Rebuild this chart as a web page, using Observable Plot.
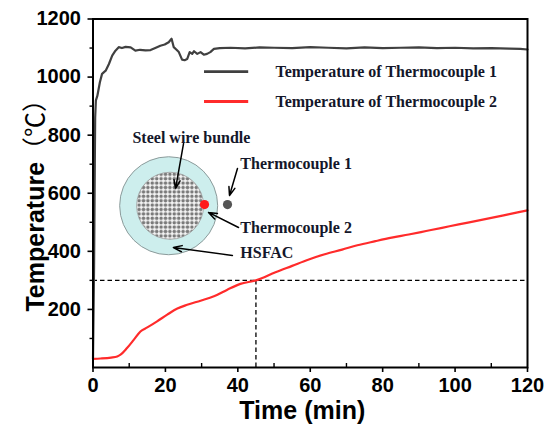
<!DOCTYPE html>
<html>
<head>
<meta charset="utf-8">
<script src="https://cdn.jsdelivr.net/npm/d3@7"></script>
<script src="https://cdn.jsdelivr.net/npm/@observablehq/plot@0.6"></script>
<style>
  html, body { margin: 0; padding: 0; background: #fff; }
</style>
</head>
<body>
<div id="chart"></div>
<script>
// ---- Data ----
const tc1Time = [0, 0.3, 0.5, 0.6, 0.8, 1.2, 1.9, 2.5, 3.5, 4.4, 5.3, 6.2, 7.1, 8, 9, 10.4, 11.7, 13, 14.5, 15.9, 17.2, 18.6, 19.8, 20.9, 21.7, 22.3, 23, 23.7, 24.6, 25.3, 26.0, 26.7, 27.4, 27.9, 28.8, 29.7, 30.6, 31.5, 32.4, 33.4, 35, 38, 42, 46, 50, 55, 60, 65, 70, 75, 80, 85, 90, 95, 100, 105, 110, 115, 118, 120];
const tc1Temp = [30, 350, 700, 860, 920, 935, 982, 1011, 1022, 1045, 1074, 1091, 1103, 1100, 1104, 1102, 1091, 1094, 1092, 1093, 1100, 1108, 1112, 1120, 1132, 1103, 1095, 1086, 1060, 1058, 1062, 1086, 1080, 1089, 1080, 1086, 1077, 1080, 1086, 1097, 1100, 1101, 1099, 1102, 1101, 1100, 1103, 1101, 1099, 1102, 1100, 1101, 1102, 1100, 1101, 1099, 1100, 1098, 1097, 1095];

const tc2Time = [0, 2.1, 5, 6.7, 7.6, 9.4, 11.3, 13.1, 15, 17.7, 20.5, 23.3, 26, 29.7, 33.4, 37.1, 40.7, 45, 50.4, 55, 59.6, 64, 68.8, 73, 78, 82.5, 87.2, 92, 96.4, 101, 105.6, 110, 115, 120];
const tc2Temp = [30, 31, 34, 38, 44, 67, 96, 124, 138, 159, 182, 203, 216, 230, 245, 268, 288, 300, 328, 350, 372, 390, 406, 421, 435, 447, 458, 470, 481, 493, 504, 515, 528, 541];

const seriesNames = ["Temperature of Thermocouple 1", "Temperature of Thermocouple 2"];
const seriesColors = ["#404040", "#ff2b2b"];

const xTicks = [0, 20, 40, 60, 80, 100, 120];
const xMinor = [10, 30, 50, 70, 90, 110];
const yTicks = [200, 400, 600, 800, 1000, 1200];
const yMinor = [100, 300, 500, 700, 900, 1100];

// 300 °C reached at 45 min
const markTime = 45;
const markTemp = 300;

// Annotation anchors, in data coordinates (min, °C)
const annoLabels = ["Steel wire bundle", "Thermocouple 1", "Thermocouple 2", "HSFAC"];
const annoX = [10.9, 40.7, 40.7, 40.7];
const annoY = [792, 702, 482, 393];
const arrowX1 = [25.0, 39.9, 40.2, 38.5];
const arrowY1 = [771, 685, 482, 386];
const arrowX2 = [22.8, 37.7, 31.9, 22.2];
const arrowY2 = [616, 592, 534, 413];
const bundleX = 21.3, bundleY = 557;
const tc2DotX = 30.8, tc1DotX = 37.15, dotsY = 561;
const legendX1 = 30.8, legendX2 = 43.0, legendTextX = 50.4;
const legendY = [1019, 916];

// ---- Build tables ----
const tc1 = tc1Time.map((t, i) => ({t, v: tc1Temp[i]}));
const tc2 = tc2Time.map((t, i) => ({t, v: tc2Temp[i]}));
const annos = annoLabels.map((s, i) => ({s, x: annoX[i], y: annoY[i]}));
const arrows = arrowX1.map((x1, i) => ({x1, y1: arrowY1[i], x2: arrowX2[i], y2: arrowY2[i]}));
const legendRows = seriesNames.map((s, i) => ({s, c: seriesColors[i], y: legendY[i]}));

const sans = "'Liberation Sans', Arial, 'Noto Sans CJK SC', sans-serif";
const serif = "'Liberation Serif', 'Times New Roman', serif";
const ink = "#14172a";

const chart = Plot.plot({
  width: 550,
  height: 436,
  marginLeft: 92.5,
  marginRight: 23,
  marginTop: 18.5,
  marginBottom: 69,
  style: {fontFamily: sans, background: "#fff", overflow: "visible"},
  x: {domain: [0, 120]},
  y: {domain: [0, 1200]},
  marks: [
    // dashed guide lines
    Plot.ruleY([markTemp], {x1: 0, x2: 120, stroke: "#000", strokeWidth: 1.3, strokeDasharray: "4.5,3"}),
    Plot.ruleX([markTime], {y1: 0, y2: markTemp, stroke: "#000", strokeWidth: 1.3, strokeDasharray: "4.5,3"}),

    // inset illustration
    Plot.dot([{x: bundleX - 0.4, y: bundleY}], {x: "x", y: "y", r: 49, fill: "#cdeeed", stroke: "#8c9b9b", strokeWidth: 1}),
    Plot.dot([{x: bundleX, y: bundleY}], {x: "x", y: "y", r: 33.5, fill: "#fff", stroke: "#9a9a9a", strokeWidth: 0.8, className: "chk"}),
    Plot.dot([{x: tc2DotX, y: dotsY}], {x: "x", y: "y", r: 4.6, fill: "#ff1a1a"}),
    Plot.dot([{x: tc1DotX, y: dotsY}], {x: "x", y: "y", r: 4.6, fill: "#555"}),
    Plot.arrow(arrows, {x1: "x1", y1: "y1", x2: "x2", y2: "y2", stroke: "#000", strokeWidth: 1.5, headLength: 9, headAngle: 40}),
    Plot.text(annos, {x: "x", y: "y", text: "s", textAnchor: "start", fontFamily: serif, fontWeight: "bold", fontSize: 16, fill: ink}),

    // series
    Plot.line(tc1, {x: "t", y: "v", stroke: seriesColors[0], strokeWidth: 2.2}),
    Plot.line(tc2, {x: "t", y: "v", stroke: seriesColors[1], strokeWidth: 2.2, curve: "monotone-x"}),

    // legend
    Plot.ruleY(legendRows, {y: "y", x1: legendX1, x2: legendX2, stroke: "c", strokeWidth: 2.8}),
    Plot.text(legendRows, {x: legendTextX, y: "y", text: "s", textAnchor: "start", fontFamily: serif, fontWeight: "bold", fontSize: 16, fill: ink}),

    // axes
    Plot.axisX(xTicks, {tickSize: 5, tickPadding: 5, strokeWidth: 1.6, fontSize: 20, fontWeight: "bold", fill: "#000", label: null, tickFormat: d3.format("d")}),
    Plot.axisX(xMinor, {tickSize: -4, text: null, strokeWidth: 1.4, label: null}),
    Plot.axisY(yTicks, {tickSize: 5, tickPadding: 7, strokeWidth: 1.6, fontSize: 20, fontWeight: "bold", fill: "#000", label: null, tickFormat: d3.format("d")}),
    Plot.axisY(yMinor, {tickSize: 3, text: null, strokeWidth: 1.4, label: null}),
    Plot.frame({stroke: "#000", strokeWidth: 2}),

    // axis titles
    Plot.text(["Time (min)"], {frameAnchor: "bottom", textAnchor: "middle", lineAnchor: "middle", dx: -8, dy: 43, fontSize: 25, fontWeight: "bold", fill: "#000"}),
    Plot.text(["Temperature（℃）"], {frameAnchor: "left", textAnchor: "middle", lineAnchor: "middle", dx: -57, dy: 6, rotate: -90, fontSize: 25, fontWeight: "bold", fill: "#000", className: "ylab"})
  ]
});

// checkered pattern for the steel wire bundle
const svg = d3.select(chart);
const defs = svg.insert("defs", ":first-child");
const pat = defs.append("pattern")
  .attr("id", "chk").attr("patternUnits", "userSpaceOnUse")
  .attr("width", 4.4).attr("height", 4.4);
pat.append("rect").attr("width", 4.4).attr("height", 4.4).attr("fill", "#f4f4f4");
pat.append("circle").attr("cx", 2.2).attr("cy", 2.2).attr("r", 1.75).attr("fill", "#7a7a7a");
svg.selectAll(".chk circle").attr("fill", "url(#chk)");

// full-width brackets in the y title, as in the reference
svg.selectAll(".ylab text").each(function() {
  const t = d3.select(this);
  const s = t.text();
  const k = s.indexOf("（");
  if (k > 0) {
    t.text(null);
    t.append("tspan").text(s.slice(0, k));
    t.append("tspan").attr("font-family", "'Noto Sans CJK SC'").attr("font-weight", "normal").text(s.slice(k));
  }
});

document.getElementById("chart").appendChild(chart);
</script>
</body>
</html>
